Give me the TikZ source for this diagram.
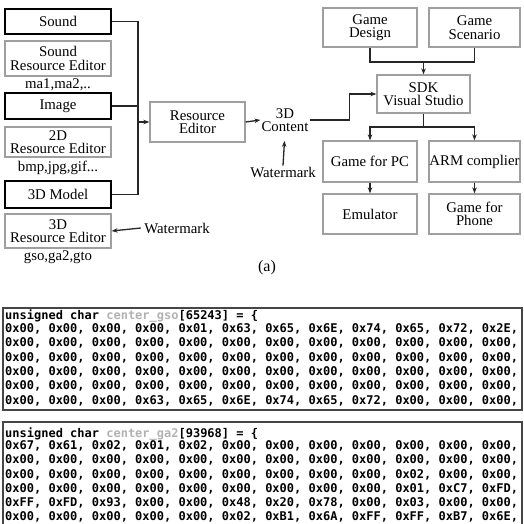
\documentclass[tikz,border=0pt]{standalone}
\usepackage{fontspec}
\setmainfont{Liberation Serif}
\newfontfamily\codefont{DejaVu Sans Mono}
\usetikzlibrary{arrows.meta,positioning}

\begin{document}
\begin{tikzpicture}[x=1pt, y=-1pt, >={Stealth[length=6pt,width=4.5pt]},
  font=\fontsize{14.8}{13.5}\selectfont,
  srcbox/.style={draw=black, line width=1.6pt, minimum width=106pt, inner sep=0pt},
  editbox/.style={draw=gray!75, line width=1.3pt, inner sep=0pt, align=center},
  link/.style={draw=black!85, line width=1.3pt},
  panel/.style={draw=gray!55!black, line width=1.2pt},
  hexrow/.style={anchor=west, inner sep=0pt, font=\codefont\bfseries\fontsize{12}{12}\selectfont}]
\useasboundingbox (0,0) rectangle (523,524);

% resources
\node[srcbox, minimum height=25pt] (sound) at (58,21.5) {Sound};
\node[editbox, minimum width=106pt, minimum height=35pt] (sre) at (58,58.5) {Sound\\Resource Editor};
\node (sext) at (58,85) {ma1,ma2,..};
\node[srcbox, minimum height=26pt] (image) at (58,106) {Image};
\node[editbox, minimum width=106pt, minimum height=30pt] (ire) at (58,142) {2D\\Resource Editor};
\node (iext) at (58,168) {bmp,jpg,gif...};
\node[srcbox, minimum height=27pt] (model) at (58,194.5) {3D Model};
\node[editbox, minimum width=106pt, minimum height=34pt] (mre) at (58,231) {3D\\Resource Editor};
\node (mext) at (58,257) {gso,ga2,gto};
\node (wmleft) at (177,228) {Watermark};

% editor and content
\coordinate (bus) at (138,122);
\node[editbox, minimum width=95pt, minimum height=40pt] (re) at (197.5,122) {Resource\\Editor};
\node[align=center, inner sep=1pt] (content) at (285,120) {3D\\Content};
\node[inner sep=1pt] (wmmid) at (283,172) {Watermark};

% game side
\node[editbox, minimum width=94pt, minimum height=39pt] (design) at (370,27.5) {Game\\Design};
\node[editbox, minimum width=91pt, minimum height=39pt] (scen) at (474.5,27.5) {Game\\Scenario};
\coordinate (join) at (423.5,62);
\node[editbox, minimum width=93pt, minimum height=38pt] (sdk) at (423.5,94) {SDK\\Visual Studio};
\coordinate (split) at (423.5,127);
\node[editbox, minimum width=94pt, minimum height=41pt] (pc) at (370,161.5) {Game for PC};
\node[editbox, minimum width=91pt, minimum height=41pt] (arm) at (474.5,161.5) {ARM complier};
\node[editbox, minimum width=94pt, minimum height=40pt] (emu) at (370,214) {Emulator};
\node[editbox, minimum width=91pt, minimum height=40pt] (phone) at (474.5,214) {Game for\\Phone};

\node[font=\fontsize{16}{16}\selectfont] (cap) at (267,268) {(a)};

\draw[link] (sound.east) -| (bus) |- (model.east);
\draw[link] (image.east) -- (image.east -| bus);
\draw[link,->] (bus) -- (re.west);
\draw[link,->] (wmleft.west) -- (mre.east);
\draw[link,->] (re.east) -- (content.west);
\draw[link,->,shorten >=8pt] (wmmid.north) -- (content.south);
\draw[link,->] (content.east) -- ++(40,0) |- (sdk.west);
\draw[link] (design.south) |- (join) -| (scen.south);
\draw[link,->] (join) -- (sdk.north);
\draw[link] (sdk.south) -- (split);
\draw[link,->] (split) -| (pc.north);
\draw[link,->] (split) -| (arm.north);
\draw[link,->] (pc) -- (emu);
\draw[link,->] (arm) -- (phone);

% code listings
\draw[panel] (3,308) rectangle (522,410);
\node[hexrow] (gsohead) at (5,316) {unsigned char \textcolor{gray!60}{center\_gso}[65243] = \{};
\foreach \hex [count=\i from 0] in {
  {0x00, 0x00, 0x00, 0x00, 0x01, 0x63, 0x65, 0x6E, 0x74, 0x65, 0x72, 0x2E,},
  {0x00, 0x00, 0x00, 0x00, 0x00, 0x00, 0x00, 0x00, 0x00, 0x00, 0x00, 0x00,},
  {0x00, 0x00, 0x00, 0x00, 0x00, 0x00, 0x00, 0x00, 0x00, 0x00, 0x00, 0x00,},
  {0x00, 0x00, 0x00, 0x00, 0x00, 0x00, 0x00, 0x00, 0x00, 0x00, 0x00, 0x00,},
  {0x00, 0x00, 0x00, 0x00, 0x00, 0x00, 0x00, 0x00, 0x00, 0x00, 0x00, 0x00,},
  {0x00, 0x00, 0x00, 0x63, 0x65, 0x6E, 0x74, 0x65, 0x72, 0x00, 0x00, 0x00,}}
  \node[hexrow] (gso\i) at (5,329+\i*14.3) {\hex};

\draw[panel] (3,422) rectangle (522,540);
\node[hexrow] (gahead) at (5,434) {unsigned char \textcolor{gray!60}{center\_ga2}[93968] = \{};
\foreach \hex [count=\i from 0] in {
  {0x67, 0x61, 0x02, 0x01, 0x02, 0x00, 0x00, 0x00, 0x00, 0x00, 0x00, 0x00,},
  {0x00, 0x00, 0x00, 0x00, 0x00, 0x00, 0x00, 0x00, 0x00, 0x00, 0x00, 0x00,},
  {0x00, 0x00, 0x00, 0x00, 0x00, 0x00, 0x00, 0x00, 0x00, 0x02, 0x00, 0x00,},
  {0x00, 0x00, 0x00, 0x00, 0x00, 0x00, 0x00, 0x00, 0x00, 0x01, 0xC7, 0xFD,},
  {0xFF, 0xFD, 0x93, 0x00, 0x00, 0x48, 0x20, 0x78, 0x00, 0x03, 0x00, 0x00,},
  {0x00, 0x00, 0x00, 0x00, 0x00, 0x02, 0xB1, 0x6A, 0xFF, 0xFF, 0xB7, 0x6E,}}
  \node[hexrow] (ga\i) at (5,446+\i*14.2) {\hex};
\end{tikzpicture}
\end{document}
